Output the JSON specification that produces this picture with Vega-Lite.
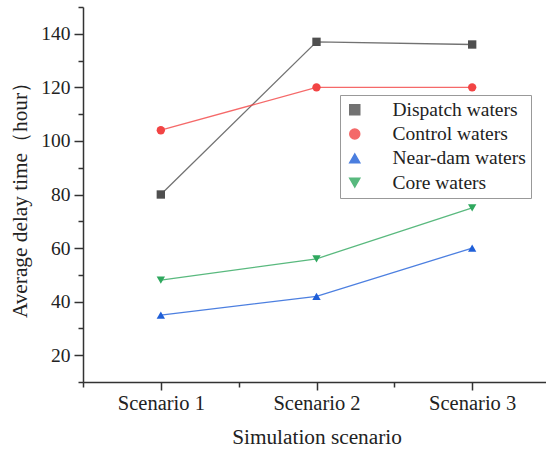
{
  "$schema": "https://vega.github.io/schema/vega-lite/v6.json",
  "width": 467,
  "height": 375,
  "autosize": {"type": "none"},
  "padding": {"left": 83, "top": 7, "right": 0, "bottom": 70},
  "background": "white",
  "config": {
    "view": {"stroke": null},
    "font": "Liberation Serif",
    "axis": {
      "labelFont": "Liberation Serif",
      "titleFont": "Liberation Serif",
      "labelColor": "#222",
      "titleColor": "#222",
      "titleFontWeight": "normal",
      "domainColor": "#333",
      "tickColor": "#333",
      "domainWidth": 1.5,
      "tickWidth": 1.5,
      "grid": false
    }
  },
  "data": {
    "values": [
      {"scenario": 1, "area": "Dispatch waters", "delay": 80},
      {"scenario": 2, "area": "Dispatch waters", "delay": 137},
      {"scenario": 3, "area": "Dispatch waters", "delay": 136},
      {"scenario": 1, "area": "Control waters", "delay": 104},
      {"scenario": 2, "area": "Control waters", "delay": 120},
      {"scenario": 3, "area": "Control waters", "delay": 120},
      {"scenario": 1, "area": "Near-dam waters", "delay": 35},
      {"scenario": 2, "area": "Near-dam waters", "delay": 42},
      {"scenario": 3, "area": "Near-dam waters", "delay": 60},
      {"scenario": 1, "area": "Core waters", "delay": 48},
      {"scenario": 2, "area": "Core waters", "delay": 56},
      {"scenario": 3, "area": "Core waters", "delay": 75}
    ]
  },
  "encoding": {
    "x": {
      "field": "scenario",
      "type": "quantitative",
      "scale": {"domain": [0.5, 3.5], "nice": false, "zero": false},
      "axis": {
        "title": "Simulation scenario",
        "values": [0.5, 1, 1.5, 2, 2.5, 3, 3.5],
        "labelExpr": "datum.value % 1 === 0 ? 'Scenario ' + datum.value : ''",
        "labelOverlap": false,
        "labelFont": "Liberation Serif",
        "labelFontSize": 20.5,
        "titleFontSize": 21.3,
        "tickSize": {"condition": {"test": "datum.value % 1 === 0", "value": 8}, "value": 5},
        "labelPadding": 3,
        "titlePadding": 13
      }
    },
    "y": {
      "field": "delay",
      "type": "quantitative",
      "scale": {"domain": [10, 150], "nice": false, "zero": false},
      "axis": {
        "title": "Average delay time（hour）",
        "values": [10, 20, 30, 40, 50, 60, 70, 80, 90, 100, 110, 120, 130, 140, 150],
        "labelExpr": "datum.value % 20 === 0 ? datum.label : ''",
        "labelOverlap": false,
        "labelFont": "Liberation Serif",
        "labelFontSize": 19.5,
        "titleFontSize": 21.3,
        "tickSize": {"condition": {"test": "datum.value % 20 === 0", "value": 9}, "value": 5},
        "labelPadding": 4,
        "titlePadding": 10
      }
    },
    "color": {
      "field": "area",
      "type": "nominal",
      "scale": {
        "domain": ["Dispatch waters", "Control waters", "Near-dam waters", "Core waters"],
        "range": ["#4f4f4f", "#f24444", "#1f5fd8", "#2fa85e"]
      },
      "legend": {
        "title": null,
        "orient": "none",
        "legendX": 257,
        "legendY": 88,
        "strokeColor": "#999",
        "padding": 5,
        "rowPadding": 3.3,
        "labelFont": "Liberation Serif",
        "labelFontSize": 19.5,
        "labelColor": "#222",
        "labelOffset": 28,
        "symbolSize": 100
      }
    }
  },
  "layer": [
    {
      "mark": {"type": "line", "strokeWidth": 1.3, "opacity": 0.8}
    },
    {
      "mark": {"type": "point", "filled": true, "size": 70, "opacity": 1},
      "encoding": {
        "shape": {
          "field": "area",
          "type": "nominal",
          "scale": {
            "domain": ["Dispatch waters", "Control waters", "Near-dam waters", "Core waters"],
            "range": ["square", "circle", "triangle-up", "triangle-down"]
          },
          "legend": null
        }
      }
    }
  ]
}
